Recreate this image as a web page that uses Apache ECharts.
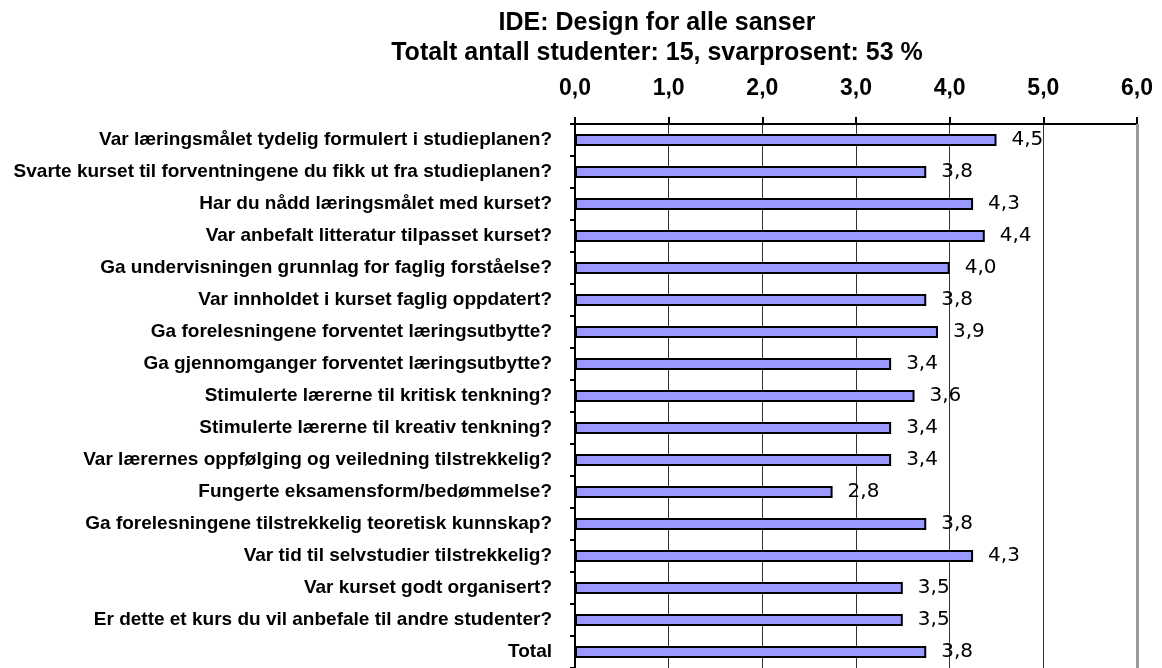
<!DOCTYPE html>
<html>
<head>
<meta charset="utf-8">
<script src="https://cdn.jsdelivr.net/npm/echarts@6/dist/echarts.min.js"></script>
<style>
  html, body { margin: 0; padding: 0; background: #fff; }
  #dataDiv { width: 1162px; height: 668px; }
</style>
</head>
<body>
<div id="dataDiv"></div>
<script>
// spørsmål (kategorier), fra toppen og ned
var questions = [
    'Var læringsmålet tydelig formulert i studieplanen?',
    'Svarte kurset til forventningene du fikk ut fra studieplanen?',
    'Har du nådd læringsmålet med kurset?',
    'Var anbefalt litteratur tilpasset kurset?',
    'Ga undervisningen grunnlag for faglig forståelse?',
    'Var innholdet i kurset faglig oppdatert?',
    'Ga forelesningene forventet læringsutbytte?',
    'Ga gjennomganger forventet læringsutbytte?',
    'Stimulerte lærerne til kritisk tenkning?',
    'Stimulerte lærerne til kreativ tenkning?',
    'Var lærernes oppfølging og veiledning tilstrekkelig?',
    'Fungerte eksamensform/bedømmelse?',
    'Ga forelesningene tilstrekkelig teoretisk kunnskap?',
    'Var tid til selvstudier tilstrekkelig?',
    'Var kurset godt organisert?',
    'Er dette et kurs du vil anbefale til andre studenter?',
    'Total'
];
// gjennomsnitt per spørsmål
var scores = [4.5, 3.75, 4.25, 4.375, 4.0, 3.75, 3.875, 3.375, 3.625, 3.375, 3.375, 2.75, 3.75, 4.25, 3.5, 3.5, 3.75];
// akseverdier
var axisMin = 0, axisMax = 6, axisStep = 1;
var titleLines = ['IDE: Design for alle sanser', 'Totalt antall studenter: 15, svarprosent: 53 %'];

var fontName = '"Liberation Sans", Arial, sans-serif';
function komma(v) { return Number(v).toFixed(1).replace('.', ','); }

var myChart = echarts.init(document.getElementById('dataDiv'), null, { renderer: 'canvas' });
var option = {
    animation: false,
    backgroundColor: '#fff',
    title: {
        text: titleLines.join('\n'),
        left: 652,
        top: 3,
        textAlign: 'center',
        textStyle: { fontFamily: fontName, fontWeight: 'bold', fontSize: 25, lineHeight: 30, color: '#000' }
    },
    grid: { left: 575, top: 124, right: 25, height: 548, containLabel: false },
    xAxis: {
        type: 'value',
        position: 'top',
        min: axisMin,
        max: axisMax,
        interval: axisStep,
        axisLine: { show: true, lineStyle: { color: '#000', width: 2 } },
        axisTick: { show: true, inside: false, length: 7, lineStyle: { color: '#000', width: 2 } },
        axisLabel: { margin: 24, formatter: komma, fontFamily: fontName, fontWeight: 'bold', fontSize: 23, color: '#000' },
        splitLine: { show: true, lineStyle: { color: '#333', width: 1 } }
    },
    yAxis: {
        type: 'category',
        inverse: true,
        data: questions,
        axisLine: { show: true, lineStyle: { color: '#000', width: 2 } },
        axisTick: { show: true, length: 5, lineStyle: { color: '#000', width: 2 } },
        axisLabel: { margin: 23, fontFamily: fontName, fontWeight: 'bold', fontSize: 19, color: '#000' }
    },
    series: [{
        type: 'bar',
        data: scores,
        barWidth: 12,
        itemStyle: { color: '#9999ff', borderColor: '#000', borderWidth: 2 },
        label: {
            show: true,
            position: 'right',
            distance: 15,
            formatter: function (p) { return komma(p.value); },
            fontFamily: '"DejaVu Sans", sans-serif',
            fontSize: 20,
            color: '#000'
        },
        markLine: {
            silent: true,
            symbol: 'none',
            label: { show: false },
            lineStyle: { color: '#9a9a9a', width: 3, type: 'solid' },
            data: [{ xAxis: axisMax }]
        }
    }]
};
myChart.setOption(option);
</script>
</body>
</html>
